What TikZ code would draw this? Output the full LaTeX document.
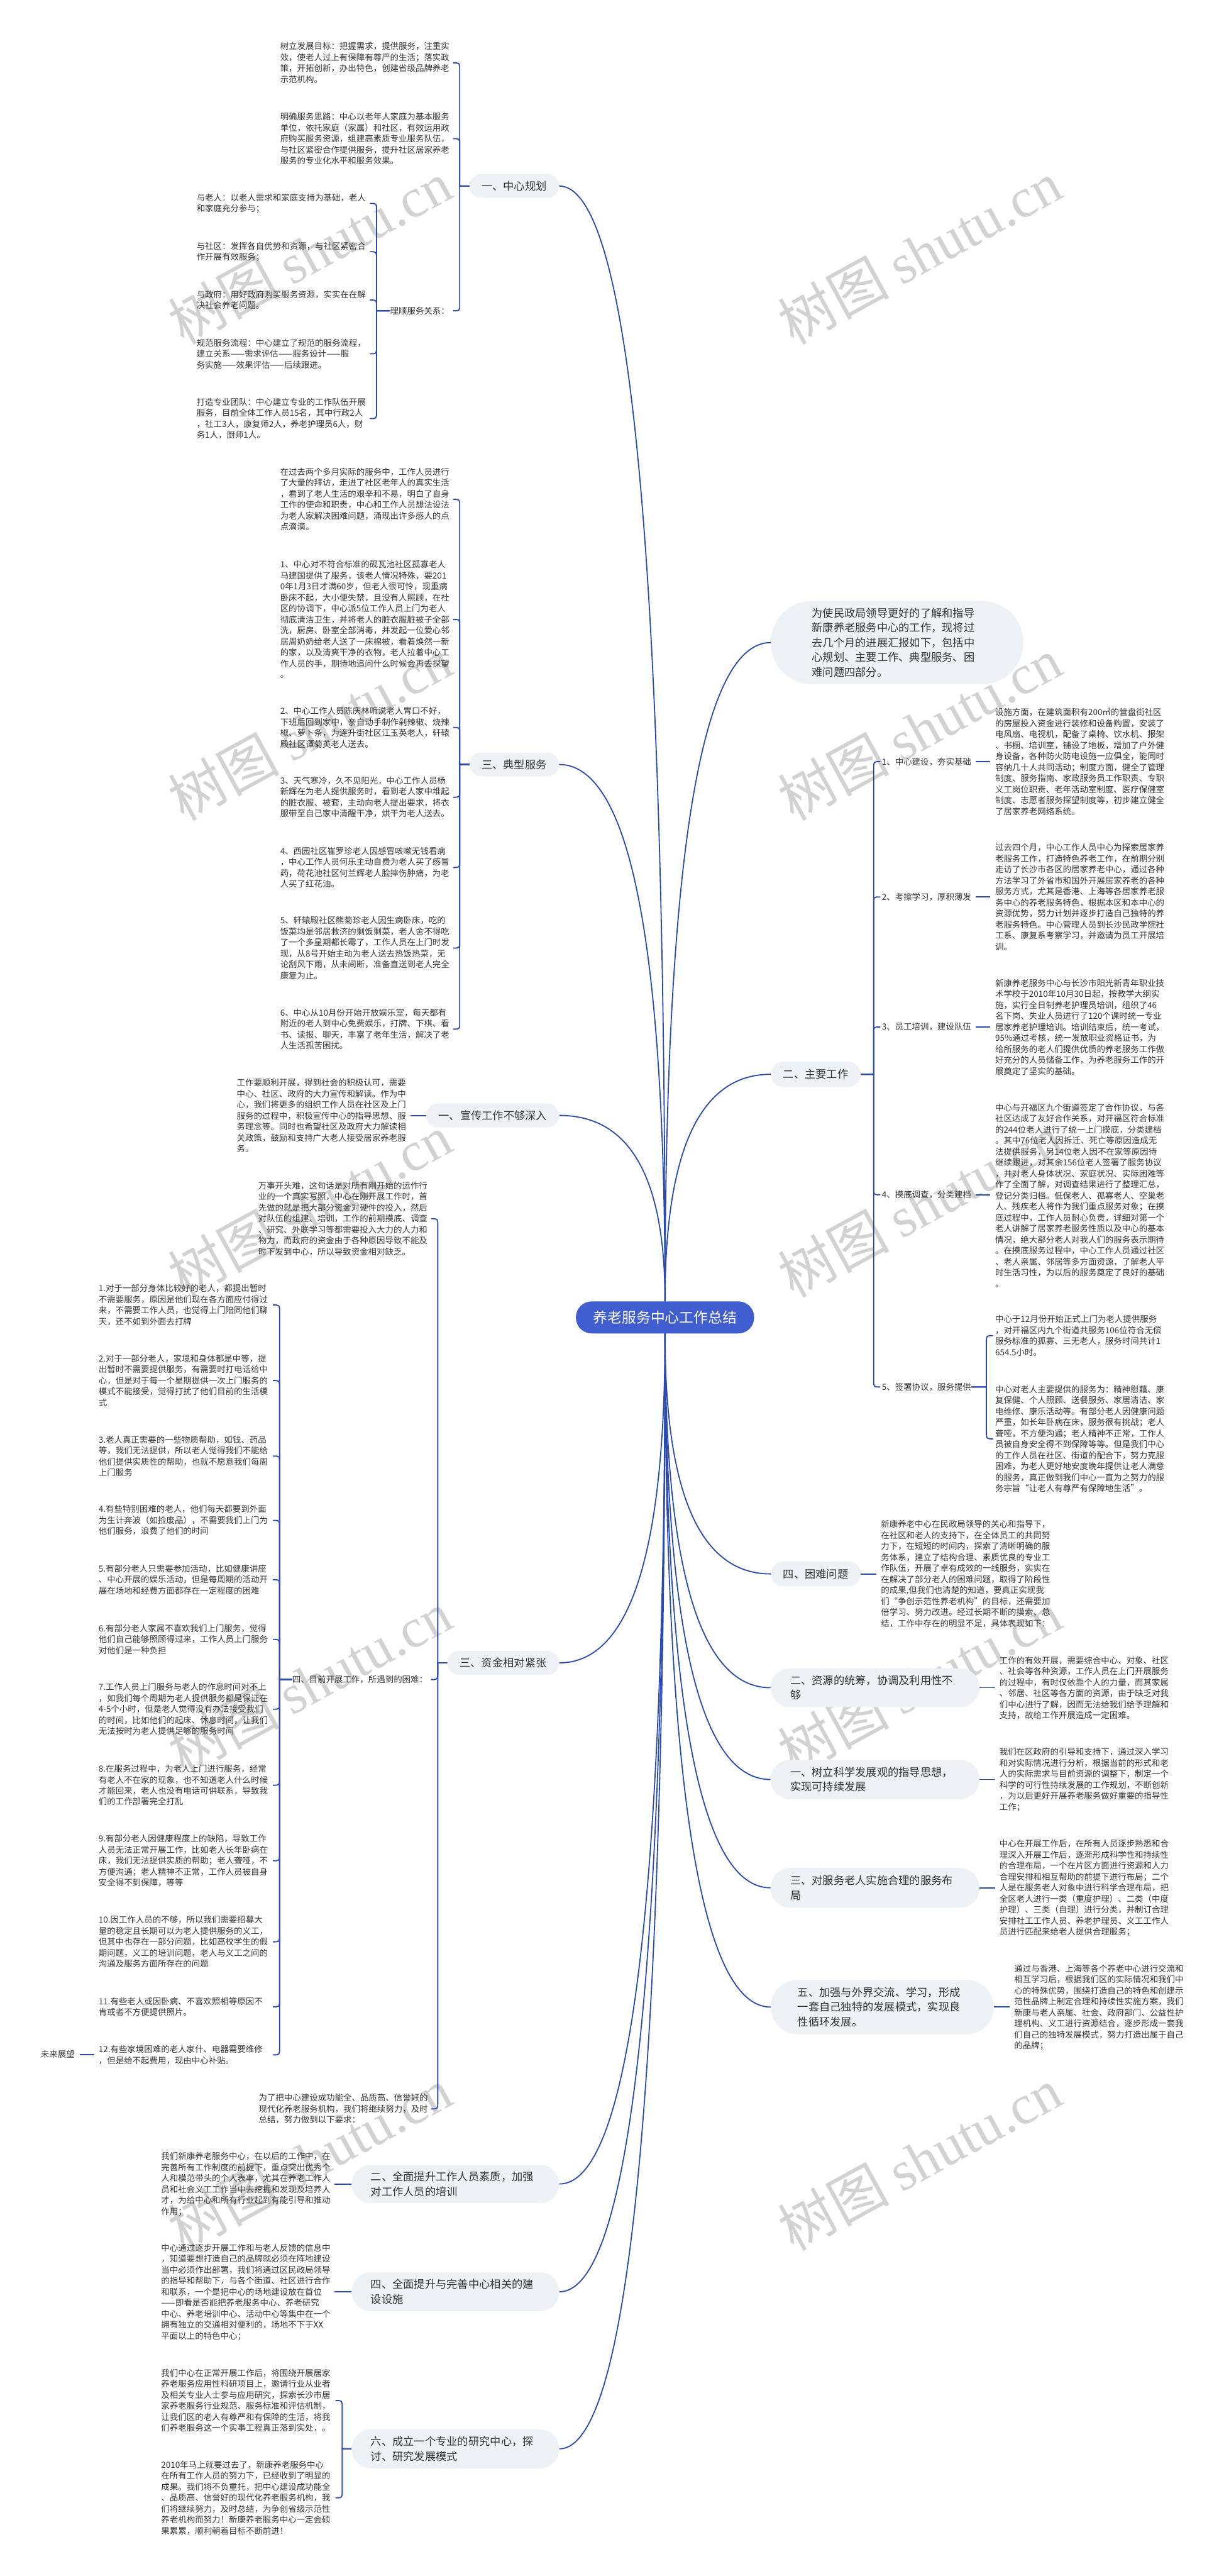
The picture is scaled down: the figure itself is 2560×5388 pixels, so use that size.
\documentclass[tikz,border=0pt]{standalone}
\usepackage{fontspec}
\setmainfont{Noto Sans CJK SC}
\newfontfamily\wmlat{Liberation Serif}
\usetikzlibrary{calc}
\definecolor{linec}{RGB}{43,74,176}
\definecolor{rootc}{RGB}{64,94,208}
\definecolor{bubc}{RGB}{238,241,246}
\definecolor{txtc}{RGB}{51,51,51}
\definecolor{wmc}{RGB}{210,210,210}
\newcommand\rcurve[2]{\draw[conn] (#1) .. controls ($(#1)!0.667!(#1 |- #2)$) and ($(#2)!0.667!(#1 |- #2)$) .. (#2);}
\newcommand\hookL[4]{\draw[conn] (#1.west) -- (#1.west -| #3) -- ($(#2.east -| #3)+(0,#4*14)$) .. controls (#2.east -| #3) .. ($(#2.east -| #3)+(-14,0)$);}
\newcommand\hookR[4]{\draw[conn] (#1.east) -- (#1.east -| #3) -- ($(#2.west -| #3)+(0,#4*14)$) .. controls (#2.west -| #3) .. ($(#2.west -| #3)+(14,0)$);}
\begin{document}
\begin{tikzpicture}[x=0.5pt,y=-0.5pt,
 conn/.style={draw=linec, line width=1.2pt},
 txt/.style={font=\fontsize{8.85}{11.5}\selectfont, text=txtc, align=left, inner sep=0pt, anchor=west},
 pill/.style={fill=bubc, text=txtc, font=\fontsize{11.35}{15.5}\selectfont, inner sep=0pt, align=center},
 pillL/.style={fill=bubc, text=txtc, font=\fontsize{11.35}{15.5}\selectfont, inner ysep=0pt, align=left},
 wm/.style={text=wmc, font=\fontsize{58}{60}\selectfont, rotate=28.7, inner sep=0pt}]
\useasboundingbox (0,0) rectangle (2560,5388);
\clip (0,0) rectangle (2560,5388);
\fill[white] (0,0) rectangle (2560,5388);
% watermarks
\foreach \yy in {528,1525,2522,3519,4516}{
 \node[wm] (wmL\yy) at (648,\yy) {树图 {\wmlat shutu.cn}};
 \node[wm] (wmR\yy) at (1924,\yy) {树图 {\wmlat shutu.cn}};
}
% coordinates of brackets
\coordinate (bxA) at (962,0);
\coordinate (bxB) at (788,0);
\coordinate (bxC) at (916,0);
\coordinate (bxD) at (585,0);
\coordinate (bxE) at (716,0);
\coordinate (bxR) at (1828,0);
\coordinate (bxS) at (2064,0);
% root
\node[fill=rootc, text=white, font=\fontsize{15}{18}\selectfont, minimum width=186.5pt, minimum height=33.5pt, rounded corners=16.5pt, inner sep=0pt] (root) at (1391.5,2755.5) {养老服务中心工作总结};
% ---------- left level 1
\node[pill, minimum width=93.5pt, minimum height=25pt, rounded corners=12.4pt] (n1) at (1076,389) {一、中心规划};
\node[pill, minimum width=93.5pt, minimum height=25pt, rounded corners=12.4pt] (n3) at (1076,1599) {三、典型服务};
\node[pill, minimum width=139pt, minimum height=25pt, rounded corners=12.4pt] (n4) at (1031,2333) {一、宣传工作不够深入};
\node[pill, minimum width=117pt, minimum height=25pt, rounded corners=12.4pt] (n5) at (1053,3478) {三、资金相对紧张};
\node[pillL, text width=177pt, inner xsep=20pt, minimum height=40pt, rounded corners=19.8pt] (n6) at (953,4568) {二、全面提升工作人员素质，加强\\对工作人员的培训};
\node[pillL, text width=177pt, inner xsep=20pt, minimum height=40.5pt, rounded corners=20pt] (n7) at (953,4793.5) {四、全面提升与完善中心相关的建\\设设施};
\node[pillL, text width=177pt, inner xsep=20pt, minimum height=41pt, rounded corners=20.3pt] (n8) at (953,5122) {六、成立一个专业的研究中心，探\\讨、研究发展模式};
% ---------- right level 1
\node[pillL, text width=178pt, inner xsep=43pt, minimum height=87pt, rounded corners=43pt] (r0) at (1877,1344) {为使民政局领导更好的了解和指导\\新康养老服务中心的工作，现将过\\去几个月的进展汇报如下，包括中\\心规划、主要工作、典型服务、困\\难问题四部分。};
\node[pill, minimum width=94pt, minimum height=26.5pt, rounded corners=13pt] (r1) at (1707,2247) {二、主要工作};
\node[pill, minimum width=94pt, minimum height=26pt, rounded corners=12.8pt] (r2) at (1707,3292) {四、困难问题};
\node[pillL, text width=177.5pt, inner xsep=20.5pt, minimum height=40.5pt, rounded corners=20pt] (r3) at (1831,3530) {二、资源的统筹，协调及利用性不\\够};
\node[pillL, text width=177.5pt, inner xsep=20.5pt, minimum height=41pt, rounded corners=20.3pt] (r4) at (1831,3722) {一、树立科学发展观的指导思想，\\实现可持续发展};
\node[pillL, text width=177.5pt, inner xsep=20.5pt, minimum height=41.5pt, rounded corners=20.5pt] (r5) at (1831,3948.5) {三、对服务老人实施合理的服务布\\局};
\node[pillL, text width=177pt, inner xsep=28pt, minimum height=57pt, rounded corners=28pt] (r6) at (1846,4198) {五、加强与外界交流、学习，形成\\一套自己独特的发展模式，实现良\\性循环发展。};
% ---------- root curves
\rcurve{root.north}{n1.east}
\rcurve{root.north}{n3.east}
\rcurve{root.north}{n4.east}
\rcurve{root.south}{n5.east}
\rcurve{root.south}{n6.east}
\rcurve{root.south}{n7.east}
\rcurve{root.south}{n8.east}
\rcurve{root.north}{r0.west}
\rcurve{root.north}{r1.west}
\rcurve{root.south}{r2.west}
\rcurve{root.south}{r3.west}
\rcurve{root.south}{r4.west}
\rcurve{root.south}{r5.west}
\rcurve{root.south}{r6.west}
% ---------- 一、中心规划
\node[txt] (a1) at (586,131.5) {树立发展目标：把握需求，提供服务，注重实\\效，使老人过上有保障有尊严的生活；落实政\\策，开拓创新，办出特色，创建省级品牌养老\\示范机构。};
\node[txt] (a2) at (586,290) {明确服务思路：中心以老年人家庭为基本服务\\单位，依托家庭（家属）和社区，有效运用政\\府购买服务资源，组建高素质专业服务队伍，\\与社区紧密合作提供服务，提升社区居家养老\\服务的专业化水平和服务效果。};
\node[txt] (a3) at (816,650) {理顺服务关系：};
\node[txt] (b1) at (411,425.5) {与老人：以老人需求和家庭支持为基础，老人\\和家庭充分参与；};
\node[txt] (b2) at (411,526.5) {与社区：发挥各自优势和资源，与社区紧密合\\作开展有效服务；};
\node[txt] (b3) at (411,627.5) {与政府：用好政府购买服务资源，实实在在解\\决社会养老问题。};
\node[txt] (b4) at (411,740) {规范服务流程：中心建立了规范的服务流程，\\建立关系——需求评估——服务设计——服\\务实施——效果评估——后续跟进。};
\node[txt] (b5) at (411,875.5) {打造专业团队：中心建立专业的工作队伍开展\\服务，目前全体工作人员15名，其中行政2人\\，社工3人，康复师2人，养老护理员6人，财\\务1人，厨师1人。};
\hookL{n1}{a1}{bxA}{1}
\hookL{n1}{a2}{bxA}{1}
\hookL{n1}{a3}{bxA}{-1}
\hookL{a3}{b1}{bxB}{1}
\hookL{a3}{b2}{bxB}{1}
\hookL{a3}{b3}{bxB}{1}
\hookL{a3}{b4}{bxB}{-1}
\hookL{a3}{b5}{bxB}{-1}
% ---------- 三、典型服务
\node[txt] (c0) at (586,1044.5) {在过去两个多月实际的服务中，工作人员进行\\了大量的拜访，走进了社区老年人的真实生活\\，看到了老人生活的艰辛和不易，明白了自身\\工作的使命和职责，中心和工作人员想法设法\\为老人家解决困难问题，涌现出许多感人的点\\点滴滴。};
\node[txt] (c1) at (586,1295.5) {1、中心对不符合标准的砚瓦池社区孤寡老人\\马建国提供了服务，该老人情况特殊，要201\\0年1月3日才满60岁，但老人很可怜，现重病\\卧床不起，大小便失禁，且没有人照顾，在社\\区的协调下，中心派5位工作人员上门为老人\\彻底清洁卫生，并将老人的脏衣服脏被子全部\\洗，厨房、卧室全部消毒，并发起一位爱心邻\\居周奶奶给老人送了一床棉被，看着焕然一新\\的家，以及清爽干净的衣物，老人拉着中心工\\作人员的手，期待地追问什么时候会再去探望\\。};
\node[txt] (c2) at (586,1521.5) {2、中心工作人员陈庆林听说老人胃口不好，\\下班后回到家中，亲自动手制作剁辣椒、烧辣\\椒、萝卜条，为连升街社区江玉英老人，轩辕\\殿社区谭菊英老人送去。};
\node[txt] (c3) at (586,1667.5) {3、天气寒冷，久不见阳光，中心工作人员杨\\新辉在为老人提供服务时，看到老人家中堆起\\的脏衣服、被套，主动向老人提出要求，将衣\\服带至自己家中清醒干净，烘干为老人送去。};
\node[txt] (c4) at (586,1814.5) {4、西园社区崔罗珍老人因感冒咳嗽无钱看病\\，中心工作人员何乐主动自费为老人买了感冒\\药，荷花池社区何兰辉老人脸摔伤肿痛，为老\\人买了红花油。};
\node[txt] (c5) at (586,1983) {5、轩辕殿社区熊菊珍老人因生病卧床，吃的\\饭菜均是邻居救济的剩饭剩菜，老人舍不得吃\\了一个多星期都长霉了，工作人员在上门时发\\现，从8号开始主动为老人送去热饭热菜，无\\论刮风下雨，从未间断，准备直送到老人完全\\康复为止。};
\node[txt] (c6) at (586,2152.5) {6、中心从10月份开始开放娱乐室，每天都有\\附近的老人到中心免费娱乐，打牌、下棋、看\\书、读报、聊天，丰富了老年生活，解决了老\\人生活孤苦困扰。};
\hookL{n3}{c0}{bxA}{1}
\hookL{n3}{c1}{bxA}{1}
\hookL{n3}{c2}{bxA}{1}
\hookL{n3}{c3}{bxA}{-1}
\hookL{n3}{c4}{bxA}{-1}
\hookL{n3}{c5}{bxA}{-1}
\hookL{n3}{c6}{bxA}{-1}
% ---------- 一、宣传
\node[txt] (d1) at (495,2333.5) {工作要顺利开展，得到社会的积极认可，需要\\中心、社区、政府的大力宣传和解读。作为中\\心，我们将更多的组织工作人员在社区及上门\\服务的过程中，积极宣传中心的指导思想、服\\务理念等。同时也希望社区及政府大力解读相\\关政策，鼓励和支持广大老人接受居家养老服\\务。};
\draw[conn, shorten >=4.5pt] (n4.west) -- (n4.west -| d1.east);
% ---------- 三、资金相对紧张
\node[txt] (e1) at (540,2549) {万事开头难，这句话是对所有刚开始的运作行\\业的一个真实写照，中心在刚开展工作时，首\\先做的就是把大部分资金对硬件的投入，然后\\对队伍的组建、培训，工作的前期摸底、调查\\、研究、外联学习等都需要投入大力的人力和\\物力，而政府的资金由于各种原因导致不能及\\时下发到中心，所以导致资金相对缺乏。};
\node[txt] (e2) at (611,3513) {四、目前开展工作，所遇到的困难：};
\node[txt] (e3) at (541,4411) {为了把中心建设成功能全、品质高、信誉好的\\现代化养老服务机构，我们将继续努力，及时\\总结，努力做到以下要求：};
\hookL{n5}{e1}{bxC}{1}
\hookL{n5}{e2}{bxC}{-1}
\hookL{n5}{e3}{bxC}{-1}
\node[txt] (i1) at (206,2729.5) {1.对于一部分身体比较好的老人，都提出暂时\\不需要服务，原因是他们现在各方面应付得过\\来，不需要工作人员，也觉得上门陪同他们聊\\天，还不如到外面去打牌};
\node[txt] (i2) at (206,2887.5) {2.对于一部分老人，家境和身体都是中等，提\\出暂时不需要提供服务，有需要时打电话给中\\心，但是对于每一个星期提供一次上门服务的\\模式不能接受，觉得打扰了他们目前的生活模\\式};
\node[txt] (i3) at (206,3045.5) {3.老人真正需要的一些物质帮助，如钱、药品\\等，我们无法提供，所以老人觉得我们不能给\\他们提供实质性的帮助，也就不愿意我们每周\\上门服务};
\node[txt] (i4) at (206,3180) {4.有些特别困难的老人，他们每天都要到外面\\为生计奔波（如捡废品），不需要我们上门为\\他们服务，浪费了他们的时间};
\node[txt] (i5) at (206,3304) {5.有部分老人只需要参加活动，比如健康讲座\\、中心开展的娱乐活动，但是每周期的活动开\\展在场地和经费方面都存在一定程度的困难};
\node[txt] (i6) at (206,3429) {6.有部分老人家属不喜欢我们上门服务，觉得\\他们自己能够照顾得过来，工作人员上门服务\\对他们是一种负担};
\node[txt] (i7) at (206,3575) {7.工作人员上门服务与老人的作息时间对不上\\，如我们每个周期为老人提供服务都是保证在\\4-5个小时，但是老人觉得没有办法接受我们\\的时间，比如他们的起床、休息时间，让我们\\无法按时为老人提供足够的服务时间};
\node[txt] (i8) at (206,3734) {8.在服务过程中，为老人上门进行服务，经常\\有老人不在家的现象，也不知道老人什么时候\\才能回来，老人也没有电话可供联系，导致我\\们的工作部署完全打乱};
\node[txt] (i9) at (206,3892) {9.有部分老人因健康程度上的缺陷，导致工作\\人员无法正常开展工作，比如老人长年卧病在\\床，我们无法提供实质的帮助；老人聋哑，不\\方便沟通；老人精神不正常，工作人员被自身\\安全得不到保障，等等};
\node[txt] (i10) at (206,4061.5) {10.因工作人员的不够，所以我们需要招募大\\量的稳定且长期可以为老人提供服务的义工，\\但其中也存在一部分问题，比如高校学生的假\\期问题，义工的培训问题，老人与义工之间的\\沟通及服务方面所存在的问题};
\node[txt] (i11) at (206,4197.5) {11.有些老人或因卧病、不喜欢照相等原因不\\肯或者不方便提供照片。};
\node[txt] (i12) at (206,4298) {12.有些家境困难的老人家什、电器需要维修\\，但是给不起费用，现由中心补贴。};
\foreach \k in {1,...,6}{\hookL{e2}{i\k}{bxD}{1}}
\foreach \k in {7,...,12}{\hookL{e2}{i\k}{bxD}{-1}}
\node[txt] (w) at (85,4297) {未来展望};
\draw[conn, shorten <=5.5pt, shorten >=4.5pt] (w.east) -- (w.east -| i12.west);
% ---------- left bottom
\node[txt] (f1) at (337,4568) {我们新康养老服务中心，在以后的工作中，在\\完善所有工作制度的前提下，重点突出优秀个\\人和模范带头的个人表率，尤其在养老工作人\\员和社会义工工作当中去挖掘和发现及培养人\\才，为给中心和所有行业起到有能引导和推动\\作用；};
\node[txt] (f2) at (337,4794) {中心通过逐步开展工作和与老人反馈的信息中\\，知道要想打造自己的品牌就必须在阵地建设\\当中必须作出部署，我们将通过区民政局领导\\的指导和帮助下，与各个街道、社区进行合作\\和联系，一个是把中心的场地建设放在首位\\——即看是否能把养老服务中心、养老研究\\中心、养老培训中心、活动中心等集中在一个\\拥有独立的交通相对便利的，场地不下于XX\\平面以上的特色中心；};
\node[txt] (f3) at (337,5021) {我们中心在正常开展工作后，将围绕开展居家\\养老服务应用性科研项目上，邀请行业从业者\\及相关专业人士参与应用研究，探索长沙市居\\家养老服务行业规范、服务标准和评估机制，\\让我们区的老人有尊严和有保障的生活，将我\\们养老服务这一个实事工程真正落到实处，。};
\node[txt] (f4) at (337,5224.5) {2010年马上就要过去了，新康养老服务中心\\在所有工作人员的努力下，已经收到了明显的\\成果。我们将不负重托，把中心建设成功能全\\、品质高、信誉好的现代化养老服务机构，我\\们将继续努力，及时总结，为争创省级示范性\\养老机构而努力！新康养老服务中心一定会硕\\果累累，顺利朝着目标不断前进！};
\draw[conn, shorten >=4pt] (n6.west) -- (n6.west -| f1.east);
\draw[conn, shorten >=4pt] (n7.west) -- (n7.west -| f2.east);
\hookL{n8}{f3}{bxE}{1}
\hookL{n8}{f4}{bxE}{-1}
% ---------- 二、主要工作
\node[txt] (L1) at (1845,1593) {1、中心建设，夯实基础};
\node[txt] (L2) at (1845,1876) {2、考擦学习，厚积薄发};
\node[txt] (L3) at (1845,2148) {3、员工培训，建设队伍};
\node[txt] (L4) at (1845,2499) {4、摸底调查，分类建档};
\node[txt] (L5) at (1845,2901) {5、签署协议，服务提供};
\hookR{r1}{L1}{bxR}{1}
\hookR{r1}{L2}{bxR}{1}
\hookR{r1}{L3}{bxR}{1}
\hookR{r1}{L4}{bxR}{-1}
\hookR{r1}{L5}{bxR}{-1}
\node[txt] (T1) at (2082,1593) {设施方面，在建筑面积有200㎡的营盘街社区\\的房屋投入资金进行装修和设备购置，安装了\\电风扇、电视机，配备了桌椅、饮水机、报架\\、书橱、培训室，铺设了地板，增加了户外健\\身设备，各种防火防电设施一应俱全，能同时\\容纳几十人共同活动；制度方面，健全了管理\\制度、服务指南、家政服务员工作职责、专职\\义工岗位职责、老年活动室制度、医疗保健室\\制度、志愿者服务探望制度等，初步建立健全\\了居家养老网络系统。};
\node[txt] (T2) at (2082,1876) {过去四个月，中心工作人员中心为探索居家养\\老服务工作，打造特色养老工作，在前期分别\\走访了长沙市各区的居家养老中心，通过各种\\方法学习了外省市和国外开展居家养老的各种\\服务方式，尤其是香港、上海等各居家养老服\\务中心的养老服务特色，根据本区和本中心的\\资源优势，努力计划并逐步打造自己独特的养\\老服务特色。中心管理人员到长沙民政学院社\\工系、康复系考察学习，并邀请为员工开展培\\训。};
\node[txt] (T3) at (2082,2148) {新康养老服务中心与长沙市阳光新青年职业技\\术学校于2010年10月30日起，按教学大纲实\\施，实行全日制养老护理员培训，组织了46\\名下岗、失业人员进行了120个课时统一专业\\居家养老护理培训。培训结束后，统一考试，\\95\%通过考核，统一发放职业资格证书，为\\给所服务的老人们提供优质的养老服务工作做\\好充分的人员储备工作，为养老服务工作的开\\展奠定了坚实的基础。};
\node[txt] (T4) at (2082,2500.5) {中心与开福区九个街道签定了合作协议，与各\\社区达成了友好合作关系，对开福区符合标准\\的244位老人进行了统一上门摸底，分类建档\\。其中76位老人因拆迁、死亡等原因造成无\\法提供服务，另14位老人因不在家等原因待\\继续跟进，对其余156位老人签署了服务协议\\，并对老人身体状况、家庭状况、实际困难等\\作了全面了解，对调查结果进行了整理汇总，\\登记分类归档。低保老人、孤寡老人、空巢老\\人、残疾老人将作为我们重点服务对象；在摸\\底过程中，工作人员耐心负责，详细对第一个\\老人讲解了居家养老服务性质以及中心的基本\\情况，绝大部分老人对我人们的服务表示期待\\。在摸底服务过程中，中心工作人员通过社区\\、老人亲属、邻居等多方面资源，了解老人平\\时生活习性，为以后的服务奠定了良好的基础\\。};
\node[txt] (T5a) at (2082,2793.5) {中心于12月份开始正式上门为老人提供服务\\，对开福区内九个街道共服务106位符合无偿\\服务标准的孤寡、三无老人，服务时间共计1\\654.5小时。};
\node[txt] (T5b) at (2082,3009.5) {中心对老人主要提供的服务为：精神慰藉、康\\复保健、个人照顾、送餐服务、家居清洁、家\\电维修、康乐活动等。有部分老人因健康问题\\严重，如长年卧病在床，服务很有挑战；老人\\聋哑，不方便沟通；老人精神不正常，工作人\\员被自身安全得不到保障等等。但是我们中心\\的工作人员在社区、街道的配合下，努力克服\\困难，为老人更好地安度晚年提供让老人满意\\的服务，真正做到我们中心一直为之努力的服\\务宗旨“让老人有尊严有保障地生活”。};
\draw[conn, shorten <=4.5pt, shorten >=5pt] (L1.east) -- (L1.east -| T1.west);
\draw[conn, shorten <=4.5pt, shorten >=5pt] (L2.east) -- (L2.east -| T2.west);
\draw[conn, shorten <=4.5pt, shorten >=5pt] (L3.east) -- (L3.east -| T3.west);
\draw[conn, shorten <=4.5pt, shorten >=5pt] (L4.east) -- (L4.east -| T4.west);
\hookR{L5}{T5a}{bxS}{1}
\hookR{L5}{T5b}{bxS}{-1}
% ---------- right lower
\node[txt] (T6) at (1843,3292) {新康养老中心在民政局领导的关心和指导下，\\在社区和老人的支持下，在全体员工的共同努\\力下，在短短的时间内，探索了清晰明确的服\\务体系，建立了结构合理、素质优良的专业工\\作队伍，开展了卓有成效的一线服务，实实在\\在解决了部分老人的困难问题，取得了阶段性\\的成果,但我们也清楚的知道，要真正实现我\\们“争创示范性养老机构”的目标，还需要加\\倍学习、努力改进。经过长期不断的摸索、总\\结，工作中存在的明显不足，具体表现如下：};
\node[txt] (T7) at (2091,3530.5) {工作的有效开展，需要综合中心、对象、社区\\、社会等各种资源，工作人员在上门开展服务\\的过程中，有时仅依靠个人的力量，而其家属\\、邻居、社区等各方面的资源，由于缺乏对我\\们中心进行了解，因而无法给我们给予理解和\\支持，故给工作开展造成一定困难。};
\node[txt] (T8) at (2091,3722.5) {我们在区政府的引导和支持下，通过深入学习\\和对实际情况进行分析，根据当前的形式和老\\人的实际需求与目前资源的调整下，制定一个\\科学的可行性持续发展的工作规划，不断创新\\，为以后更好开展养老服务做好重要的指导性\\工作；};
\node[txt] (T9) at (2091,3949) {中心在开展工作后，在所有人员逐步熟悉和合\\理深入开展工作后，逐渐形成科学性和持续性\\的合理布局，一个在片区方面进行资源和人力\\合理安排和相互帮助的前提下进行布局；二个\\人是在服务老人对象中进行科学合理布局，把\\全区老人进行一类（重度护理）、二类（中度\\护理）、三类（自理）进行分类，并制订合理\\安排社工工作人员、养老护理员、义工工作人\\员进行匹配来给老人提供合理服务；};
\node[txt] (T10) at (2122,4198.5) {通过与香港、上海等各个养老中心进行交流和\\相互学习后，根据我们区的实际情况和我们中\\心的特殊优势，围绕打造自己的特色和创建示\\范性品牌上制定合理和持续性实施方案，我们\\新康与老人亲属、社会、政府部门、公益性护\\理机构、义工进行资源结合，逐步形成一套我\\们自己的独特发展模式，努力打造出属于自己\\的品牌；};
\draw[conn, shorten >=4.5pt] (r2.east) -- (r2.east -| T6.west);
\draw[conn, shorten >=4.5pt] (r3.east) -- (r3.east -| T7.west);
\draw[conn, shorten >=4.5pt] (r4.east) -- (r4.east -| T8.west);
\draw[conn, shorten >=4.5pt] (r5.east) -- (r5.east -| T9.west);
\draw[conn, shorten >=5pt] (r6.east) -- (r6.east -| T10.west);
\end{tikzpicture}
\end{document}
